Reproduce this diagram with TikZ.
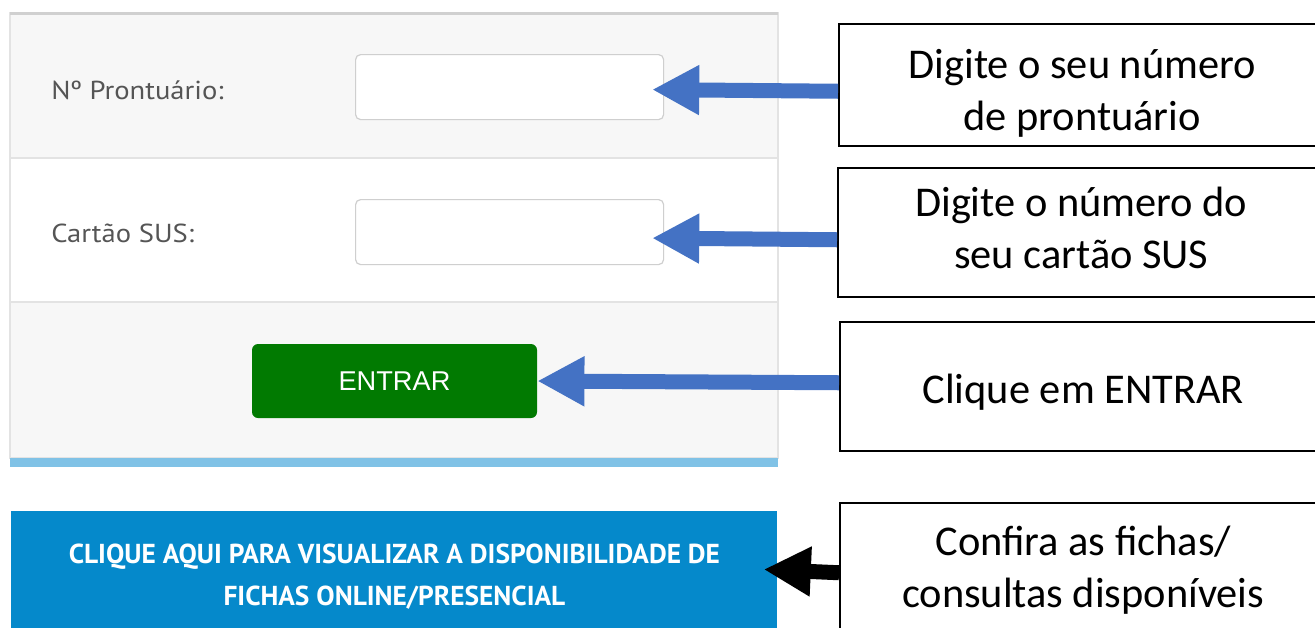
\documentclass[tikz,border=0pt]{standalone}
\usepackage{fontspec}
\setmainfont{Carlito}
\newfontfamily\webfont[FakeStretch=1.1]{PT Sans}
\newfontfamily\btnfont{Liberation Sans}
\newfontfamily\bannerfont{PT Sans}
\usetikzlibrary{arrows.meta}
\definecolor{panelgray}{HTML}{F7F7F7}
\definecolor{linegray}{HTML}{E3E3E3}
\definecolor{topgray}{HTML}{D0D0D0}
\definecolor{fieldgray}{HTML}{CFCFCF}
\definecolor{labelgray}{HTML}{555555}
\definecolor{btngreen}{HTML}{017A01}
\definecolor{stripblue}{HTML}{80C2E6}
\definecolor{bannerblue}{HTML}{0589CB}
\definecolor{arrowblue}{HTML}{4472C4}
% lowers the text inside a hint box, the box itself keeps its size
\newcommand{\hintlines}[3]{\raisebox{#1}[\height][\depth]{\begin{tabular}{@{}c@{}}#2\\#3\end{tabular}}}
\begin{document}
\begin{tikzpicture}[
    x=0.5pt, y=-0.5pt,
    hint/.style={rectangle, draw=black, line width=0.75pt, fill=white, anchor=north west, align=center, inner sep=0pt, minimum width=243.5pt, font=\fontsize{21.2}{26}\selectfont},
    field/.style={rectangle, draw=fieldgray, line width=0.6pt, fill=white, rounded corners=2.5pt, anchor=north west, minimum width=154pt, minimum height=32.5pt},
    label/.style={anchor=west, text=labelgray, inner sep=0pt, font=\webfont\fontsize{13}{15}\selectfont},
    arrow/.style={line width=7.5pt, draw=arrowblue, -{Triangle[length=23.5pt, width=23.5pt]}}
]
    \useasboundingbox (0,0) rectangle (1315,627);
    \clip (0,0) rectangle (1315,627);

    % Form panel
    \fill [panelgray] (10,13) rectangle (778,158);
    \fill [white] (10,158) rectangle (778,302);
    \fill [panelgray] (10,302) rectangle (778,458);
    \draw [linegray, line width=0.6pt] (10,13) rectangle (778,458);
    \draw [linegray, line width=0.6pt] (10,158) -- (778,158);
    \draw [linegray, line width=0.6pt] (10,302) -- (778,302);
    \draw [topgray, line width=1.5pt] (10,13) -- (778,13);
    \fill [stripblue] (10,458) rectangle (778,467);

    % Fields and buttons
    \node [label] (lab1) at (51,90) {Nº Prontuário:};
    \node [label] (lab2) at (51,233) {Cartão SUS:};
    \node [field] (field1) at (355,54) {};
    \node [field] (field2) at (355,199) {};
    \node [rectangle, fill=btngreen, rounded corners=3pt, minimum width=142.5pt, minimum height=37pt, text=white, font=\btnfont\fontsize{13.6}{15}\selectfont] (enter) at (394.5,381) {ENTRAR};
    \node [rectangle, fill=bannerblue, anchor=north west, minimum width=383pt, minimum height=65pt, align=center, text=white, font=\bannerfont\bfseries\fontsize{13.7}{21}\selectfont] (banner) at (11,511) {CLIQUE AQUI PARA VISUALIZAR A DISPONIBILIDADE DE\\FICHAS ONLINE/PRESENCIAL};

    % Hints
    \node [hint, minimum height=61pt] (hint1) at (838,23) {\hintlines{-4.5pt}{Digite o seu número}{de prontuário}};
    \node [hint, minimum height=64.5pt] (hint2) at (837,167) {\hintlines{0pt}{Digite o número do}{seu cartão SUS}};
    \node [hint, minimum height=64.5pt] (hint3) at (839,321) {\raisebox{-3pt}[\height][\depth]{Clique em ENTRAR}};
    \node [hint, minimum height=68pt] (hint4) at (839,502) {\hintlines{0pt}{Confira as fichas/}{consultas disponíveis}};

    % Arrows
    \draw [arrow] ([yshift=-3.25pt]hint1.west) -- ([xshift=-6pt, yshift=-1.25pt]field1.east);
    \draw [arrow] ([yshift=-3.75pt]hint2.west) -- ([xshift=-6pt, yshift=-3pt]field2.east);
    \draw [arrow] ([yshift=1.75pt]hint3.west) -- (enter.east);
    \draw [arrow, draw=black] ([yshift=-1pt]hint4.west) -- ([xshift=-7pt, yshift=3.5pt]banner.east);
\end{tikzpicture}
\end{document}
